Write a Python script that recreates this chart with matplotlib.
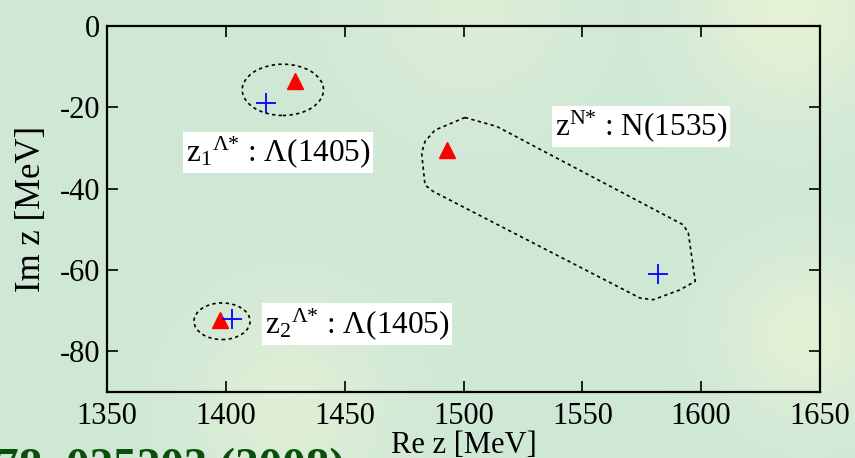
import numpy as np
import matplotlib
matplotlib.use("Agg")
import matplotlib.pyplot as plt
from matplotlib.patches import Ellipse, Polygon

plt.rcParams['font.family'] = ['Liberation Serif', 'DejaVu Serif']
plt.rcParams['mathtext.fontset'] = 'custom'
plt.rcParams['mathtext.rm'] = 'Liberation Serif'
plt.rcParams['mathtext.it'] = 'Liberation Serif'
plt.rcParams['mathtext.bf'] = 'Liberation Serif:bold'

# ---- data ----
tri_re = [1429, 1493, 1397.5]
tri_im = [-13.5, -30.5, -72.2]
cross_re = [1417, 1582, 1402.5]
cross_im = [-19, -61, -72]

ell_centers = [(1424, -15.7), (1398.4, -72.6)]
ell_widths = [34.2, 23.6]
ell_heights = [12.6, 9.0]

region_re = [1500.6, 1514, 1592.5, 1594.6, 1597.5, 1591, 1579.9, 1574.3,
             1487.3, 1483.8, 1482.4, 1483.8, 1488]
region_im = [-22.5, -24.7, -48.9, -50.9, -62.8, -64.9, -67.3, -66.9,
             -40.7, -39.1, -31.3, -28.4, -25.6]

labels = [r'$\mathregular{z_1{}^{\Lambda{*}}}$ : Λ(1405)',
          r'$\mathregular{z_2{}^{\Lambda{*}}}$ : Λ(1405)',
          r'$\mathregular{z^{N{*}}}$ : N(1535)']
label_re = [1383.2, 1416.5, 1538.5]
label_im = [-31.1, -73.3, -24.7]

xticks = [1350, 1400, 1450, 1500, 1550, 1600, 1650]
yticks = [0, -20, -40, -60, -80]
citation = "78, 025203 (2008)"

# ---- figure ----
W, H = 855, 458
fig = plt.figure(figsize=(W / 100, H / 100), dpi=100)

# background gradient
bg = fig.add_axes([0, 0, 1, 1], zorder=-10)
yy, xx = np.mgrid[0:H, 0:W]
base = np.array([207, 232, 215], float) / 255
yellow = np.array([234, 243, 212], float) / 255
w = np.zeros((H, W))
for cx, cy, r, a in [(790, 10, 75, 0.85), (805, 335, 60, 0.75), (290, 405, 75, 0.6),
                     (470, 0, 85, 0.5)]:
    w = np.maximum(w, a * np.exp(-((xx - cx) ** 2 + (yy - cy) ** 2) / (2 * r ** 2)))
img = base[None, None, :] * (1 - w[..., None]) + yellow[None, None, :] * w[..., None]
bg.imshow(img, aspect='auto', extent=[0, W, H, 0])
bg.set_xlim(0, W)
bg.set_ylim(H, 0)
bg.axis('off')

ax = fig.add_axes([107 / W, 1 - 392 / H, (820 - 107) / W, (392 - 26) / H])
ax.patch.set_alpha(0)

for c, wd, ht in zip(ell_centers, ell_widths, ell_heights):
    ax.add_patch(Ellipse(c, wd, ht, fill=False, ec='black', lw=1.2,
                         ls=(0, (2, 2)), zorder=2))
ax.add_patch(Polygon(np.column_stack([region_re, region_im]), closed=True,
                     fill=False, ec='black', lw=1.2, ls=(0, (2, 2)), zorder=2))

ax.plot(tri_re, tri_im, ls='none', marker='^', color='red', ms=11, zorder=4)
ax.plot(cross_re, cross_im, ls='none', marker='+', color='blue', ms=14, mew=1.3, zorder=5)

for t, x, y in zip(labels, label_re, label_im):
    ax.text(x, y, t, fontsize=22.5, ha='left', va='center', zorder=6,
            bbox=dict(facecolor='white', edgecolor='none', pad=2))

ax.set_xlim(1350, 1650)
ax.set_ylim(-90, 0)
ax.set_xticks(xticks)
ax.set_yticks(yticks)
ax.set_xticklabels([str(v) for v in xticks])
ax.set_yticklabels([str(v) for v in yticks])
ax.tick_params(direction='in', length=8, width=1.2, top=True, right=True,
               labelsize=22, pad=7)
ax.tick_params(axis='y', pad=5)
for s in ax.spines.values():
    s.set_linewidth(1.6)

ax.set_xlabel('Re z [MeV]', fontsize=22, labelpad=0)
ax.set_ylabel('Im z [MeV]', fontsize=25, labelpad=8)

fig.text(-5 / W, 1 - 480 / H, citation, fontsize=34, fontweight='bold',
         color='#0a500a', ha='left', va='baseline')

fig.savefig('out.png', dpi=100)
